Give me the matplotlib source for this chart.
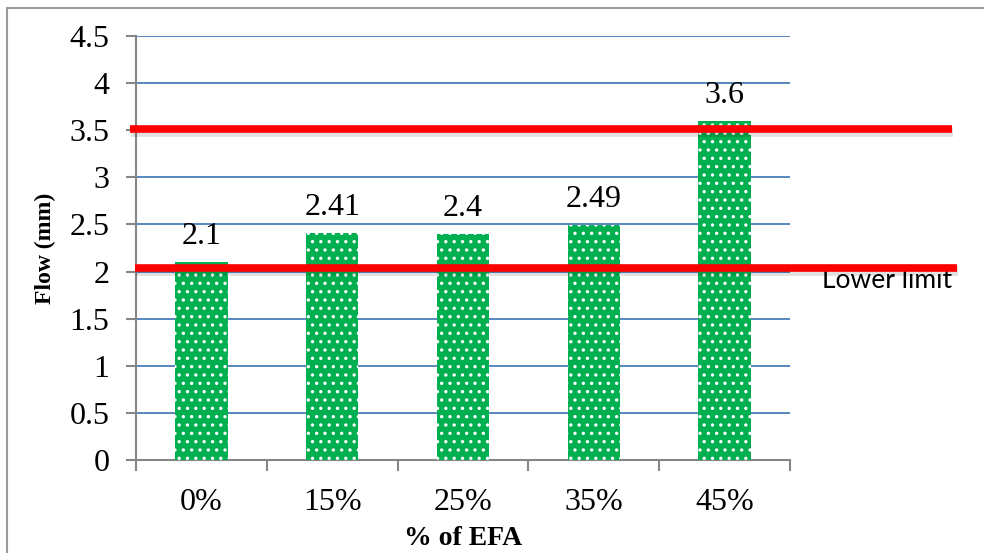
import matplotlib
matplotlib.use("Agg")
import matplotlib.pyplot as plt
import matplotlib.transforms as mtransforms
from matplotlib.patches import Rectangle

efa = ["0%", "15%", "25%", "35%", "45%"]
flow = [2.1, 2.41, 2.4, 2.49, 3.6]
value_labels = ["2.1", "2.41", "2.4", "2.49", "3.6"]
upper_limit = 3.51
lower_limit = 2.04

serif = "Liberation Serif"
plt.rcParams["hatch.linewidth"] = 1.2

fig = plt.figure(figsize=(9.84, 5.53), dpi=100)
ax = fig.add_axes([0.1382, 0.1682, 0.6646, 0.7667])

x = list(range(len(efa)))
ax.bar(x, flow, width=0.4, color="#00b050", edgecolor="white",
       linewidth=0, hatch="..", zorder=3)

for xi, v, lab in zip(x, flow, value_labels):
    ax.annotate(lab, (xi, v), xytext=(0, 8), textcoords="offset points",
                ha="center", va="bottom", fontsize=23, family=serif)

ax.set_xlim(-0.5, len(efa) - 0.5)
ax.set_ylim(0, 4.5)
ax.set_yticks([0, 0.5, 1, 1.5, 2, 2.5, 3, 3.5, 4, 4.5])
ax.set_yticklabels(["0", "0.5", "1", "1.5", "2", "2.5", "3", "3.5", "4", "4.5"])
ax.set_xticks(x)
ax.set_xticklabels(efa)
ax.set_xticks([i - 0.5 for i in range(len(efa) + 1)], minor=True)
ax.tick_params(axis="x", which="major", length=0, pad=20)
ax.tick_params(axis="x", which="minor", length=8, color="#868686", width=1.5)
ax.tick_params(axis="y", length=7, color="#868686", width=1.5, pad=12)
for t in ax.get_xticklabels() + ax.get_yticklabels():
    t.set_fontfamily(serif)
    t.set_fontsize(23)

ax.grid(axis="y", color="#4a7ebb", linewidth=1.3, zorder=0)
ax.set_axisbelow(True)
for s in ["top", "right"]:
    ax.spines[s].set_visible(False)
for s in ["left", "bottom"]:
    ax.spines[s].set_color("#868686")
    ax.spines[s].set_linewidth(1.5)

ax.set_ylabel("Flow (mm)", fontsize=17, fontweight="bold", family=serif, labelpad=10)
ax.set_xlabel("% of EFA", fontsize=20, fontweight="bold", family=serif, labelpad=7)

# limit lines run past the plot area, so x is in figure units
trans = mtransforms.blended_transform_factory(fig.transFigure, ax.transData)
shadow = mtransforms.offset_copy(trans, fig=fig, x=1, y=-3, units="dots")
for y, x0, x1 in [(upper_limit, 130, 952), (lower_limit, 135, 957)]:
    ax.plot([x0 / 984, x1 / 984], [y, y], transform=shadow, color="#000000",
            alpha=0.12, linewidth=7, clip_on=False, zorder=4,
            solid_capstyle="butt")
    ax.plot([x0 / 984, x1 / 984], [y, y], transform=trans, color="#ff0000",
            linewidth=5.5, clip_on=False, zorder=5, solid_capstyle="butt")

ax.text(822 / 984, 1.9, "Lower limit", transform=trans, fontsize=19,
        family="Lato", va="center", ha="left")

fig.patches.append(Rectangle((7 / 984, -0.1), 1.2, 1 - 8 / 553 + 0.1,
                             transform=fig.transFigure, fill=False,
                             edgecolor="#9a9a9a", linewidth=1.5))

fig.savefig("out.png", dpi=100)
